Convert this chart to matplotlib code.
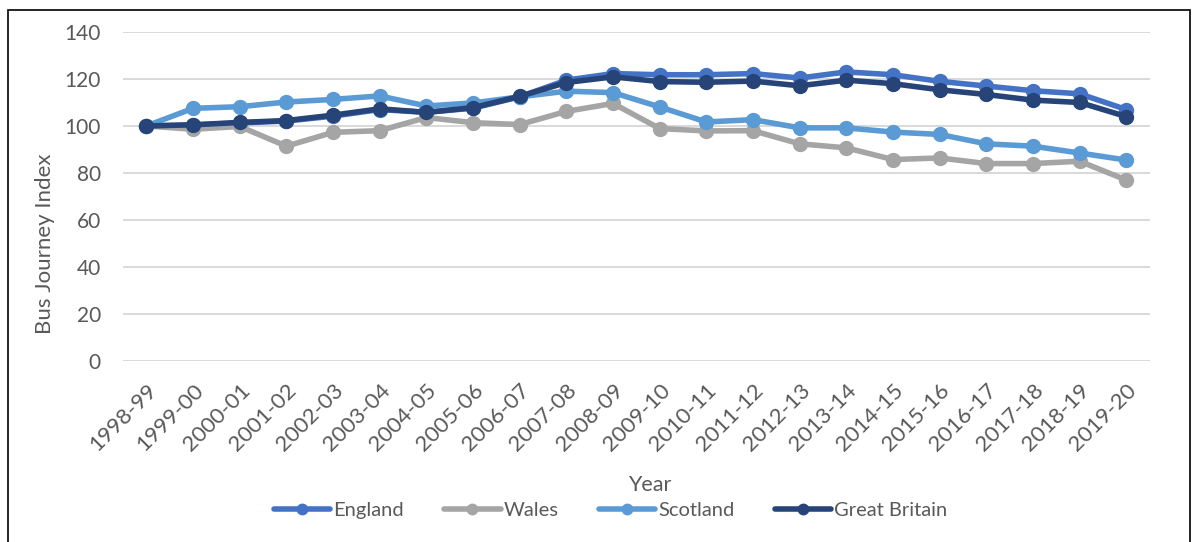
import matplotlib
matplotlib.use("Agg")
import matplotlib.pyplot as plt
from matplotlib.patches import Rectangle

years = ["1998-99", "1999-00", "2000-01", "2001-02", "2002-03", "2003-04", "2004-05",
         "2005-06", "2006-07", "2007-08", "2008-09", "2009-10", "2010-11", "2011-12",
         "2012-13", "2013-14", "2014-15", "2015-16", "2016-17", "2017-18", "2018-19",
         "2019-20"]
england = [100, 100.4, 101.3, 102.1, 104.2, 107.0, 105.8, 107.6, 112.4, 119.5, 122.3,
           121.8, 121.8, 122.3, 120.4, 123.0, 121.8, 119.0, 117.0, 115.0, 113.7, 107.0]
wales = [100, 98.6, 99.8, 91.4, 97.3, 98.0, 103.6, 101.4, 100.6, 106.2, 109.6,
         98.9, 97.9, 98.0, 92.4, 90.7, 85.7, 86.4, 84.0, 84.0, 85.0, 77.0]
scotland = [100, 107.5, 108.2, 110.2, 111.3, 112.8, 108.5, 109.8, 112.4, 114.8, 114.2,
            108.1, 101.7, 102.7, 99.2, 99.2, 97.4, 96.4, 92.4, 91.4, 88.5, 85.5]
great_britain = [100, 100.5, 101.5, 102.3, 104.6, 107.3, 105.8, 107.8, 112.6, 118.5, 120.9,
                 118.9, 118.6, 119.1, 117.1, 119.5, 118.0, 115.4, 113.4, 111.0, 110.0, 104.0]

series = [("England", england, "#4472C4"),
          ("Wales", wales, "#A5A5A5"),
          ("Scotland", scotland, "#5B9BD5"),
          ("Great Britain", great_britain, "#264478")]

plt.rcParams['font.family'] = ['Lato', 'DejaVu Sans']
text_color = "#595959"

fig = plt.figure(figsize=(11.95, 5.42), dpi=100)
ax = fig.add_axes([0.103, 0.334, 0.859, 0.607])

x = list(range(len(years)))
for name, vals, col in series:
    ax.plot(x, vals, color=col, lw=4, marker="o", markersize=10,
            label=name, solid_capstyle="round")

ax.set_xlim(-0.5, len(years) - 0.5)
ax.set_ylim(0, 140)
ax.set_yticks(range(0, 141, 20))
ax.set_xticks(x)
ax.set_xticklabels(years, rotation=45, ha="right", rotation_mode="anchor",
                   fontsize=16, color=text_color)
ax.tick_params(axis="y", labelsize=15, colors=text_color, length=0, pad=16)
ax.tick_params(axis="x", length=0, pad=14)
ax.grid(axis="y", color="#D9D9D9", lw=1.4)
ax.set_axisbelow(True)
for s in ax.spines.values():
    s.set_visible(False)

fig.text(45 / 1195, 1 - 244 / 542, "Bus Journey Index", rotation=90, fontsize=16,
         color=text_color, ha="center", va="center")
fig.text(0.544, 0.105, "Year", fontsize=15.5, color=text_color, ha="center", va="center")

leg = fig.legend(loc="center", bbox_to_anchor=(0.511, 0.058), ncol=4, frameon=False,
                 fontsize=14.5, handlelength=2.8, columnspacing=2.0, handletextpad=0.15,
                 markerscale=0.75)
for t in leg.get_texts():
    t.set_color(text_color)

fig.patches.append(Rectangle((8 / 1195, -0.01), 1182 / 1195, 1 - 10 / 542 + 0.01,
                             transform=fig.transFigure, fill=False, edgecolor="black",
                             lw=1.2))

fig.savefig("out.png", dpi=100)
